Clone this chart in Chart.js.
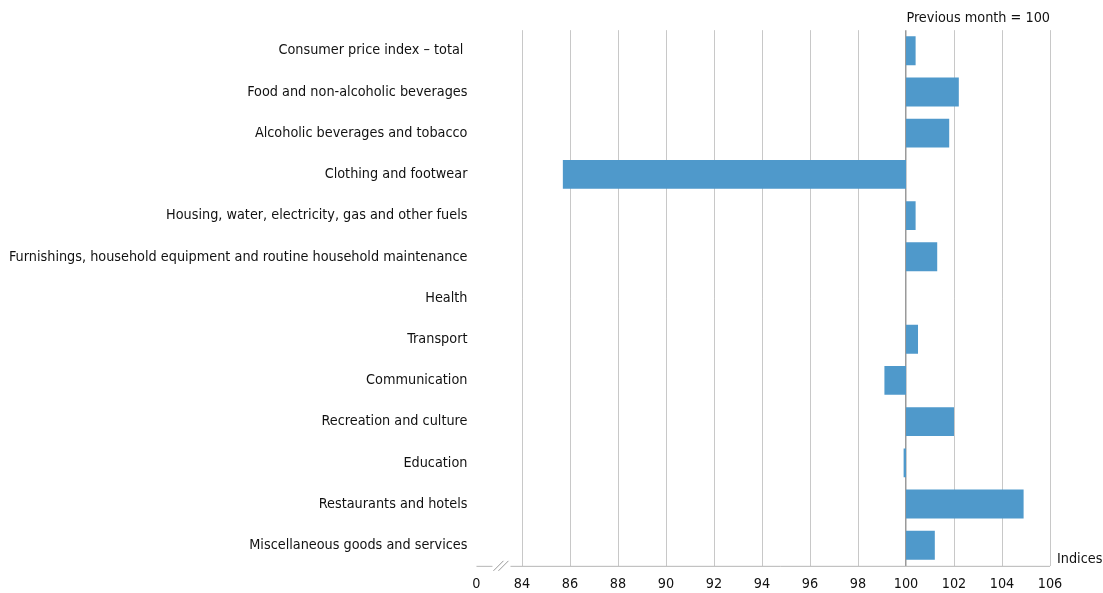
<!DOCTYPE html>
<html>
<head>
<meta charset="utf-8">
<script src="https://cdn.jsdelivr.net/npm/chart.js@4"></script>
<style>
    html, body { margin: 0; padding: 0; background: #fff; }
    #wrap { width: 1103px; height: 593px; }
</style>
</head>
<body>
<div id="wrap"><canvas id="cpi"></canvas></div>
<script>
// categories and index values (previous month = 100)
const categories = [
    'Consumer price index \u2013 total ',
    'Food and non-alcoholic beverages',
    'Alcoholic beverages and tobacco',
    'Clothing and footwear',
    'Housing, water, electricity, gas and other fuels',
    'Furnishings, household equipment and routine household maintenance',
    'Health',
    'Transport',
    'Communication',
    'Recreation and culture',
    'Education',
    'Restaurants and hotels',
    'Miscellaneous goods and services'
];
const indexValues = [100.4, 102.2, 101.8, 85.7, 100.4, 101.3, 100.0, 100.5, 99.1, 102.0, 99.9, 104.9, 101.2];
const baseValue = 100;
const tickValues = [82.1, 84, 86, 88, 90, 92, 94, 96, 98, 100, 102, 104, 106];
const tickLabels = ['0', '84', '86', '88', '90', '92', '94', '96', '98', '100', '102', '104', '106'];

const FONT = '"Liberation Sans Narrow", "DejaVu Sans Condensed", Arial, sans-serif';
const FONT_SIZE = 14.3;

// bottom axis line with a break, plus the "Indices" label
const axisBreak = {
    id: 'axisBreak',
    afterDraw(chart) {
        const ctx = chart.ctx;
        const area = chart.chartArea;
        const x = chart.scales.x;
        const y = area.bottom;
        ctx.save();
        ctx.strokeStyle = '#b5b5b5';
        ctx.lineWidth = 1;
        ctx.beginPath();
        ctx.moveTo(area.left, y + 0.5);
        ctx.lineTo(area.left + 16, y + 0.5);
        ctx.moveTo(area.left + 34, y + 0.5);
        ctx.lineTo(area.right, y + 0.5);
        ctx.stroke();
        ctx.strokeStyle = '#999';
        ctx.beginPath();
        ctx.moveTo(area.left + 17, y + 5);
        ctx.lineTo(area.left + 27, y - 5);
        ctx.moveTo(area.left + 22, y + 5);
        ctx.lineTo(area.left + 32, y - 5);
        ctx.stroke();
        ctx.fillStyle = '#111';
        ctx.font = FONT_SIZE + 'px ' + FONT;
        ctx.textAlign = 'left';
        ctx.textBaseline = 'middle';
        ctx.fillText('Indices', x.right + 7, y - 7);
        ctx.restore();
    }
};

new Chart(document.getElementById('cpi'), {
    type: 'bar',
    data: {
        labels: categories,
        datasets: [{
            label: 'Index',
            data: indexValues.map(v => [baseValue, v]),
            backgroundColor: '#4f99cb',
            borderWidth: 0,
            barPercentage: 0.7,
            categoryPercentage: 1.0
        }]
    },
    options: {
        indexAxis: 'y',
        responsive: true,
        maintainAspectRatio: false,
        animation: false,
        layout: { padding: { top: 10, right: 53, bottom: -10, left: 0 } },
        plugins: {
            legend: { display: false },
            tooltip: { enabled: false },
            title: {
                display: true,
                text: 'Previous month = 100',
                align: 'end',
                fullSize: false,
                color: '#111',
                font: { family: FONT, size: FONT_SIZE, weight: 'normal' },
                padding: { top: 0, bottom: 3 }
            }
        },
        scales: {
            x: {
                min: 82.1,
                max: 106,
                afterBuildTicks(scale) {
                    scale.ticks = tickValues.map(v => ({ value: v }));
                },
                ticks: {
                    color: '#111',
                    font: { family: FONT, size: FONT_SIZE },
                    padding: 10,
                    maxRotation: 0,
                    autoSkip: false,
                    callback: (value, i) => tickLabels[i]
                },
                grid: {
                    drawTicks: false,
                    color: ctx => {
                        if (ctx.index === 0) return 'rgba(0,0,0,0)';
                        return tickValues[ctx.index] === baseValue ? '#9a9a9a' : '#c8c8c8';
                    },
                    lineWidth: ctx => tickValues[ctx.index] === baseValue ? 1.5 : 1
                },
                border: { display: false }
            },
            y: {
                ticks: {
                    color: '#111',
                    font: { family: FONT, size: FONT_SIZE },
                    padding: 9
                },
                grid: { display: false, drawTicks: false },
                border: { display: false }
            }
        }
    },
    plugins: [axisBreak]
});
</script>
</body>
</html>
